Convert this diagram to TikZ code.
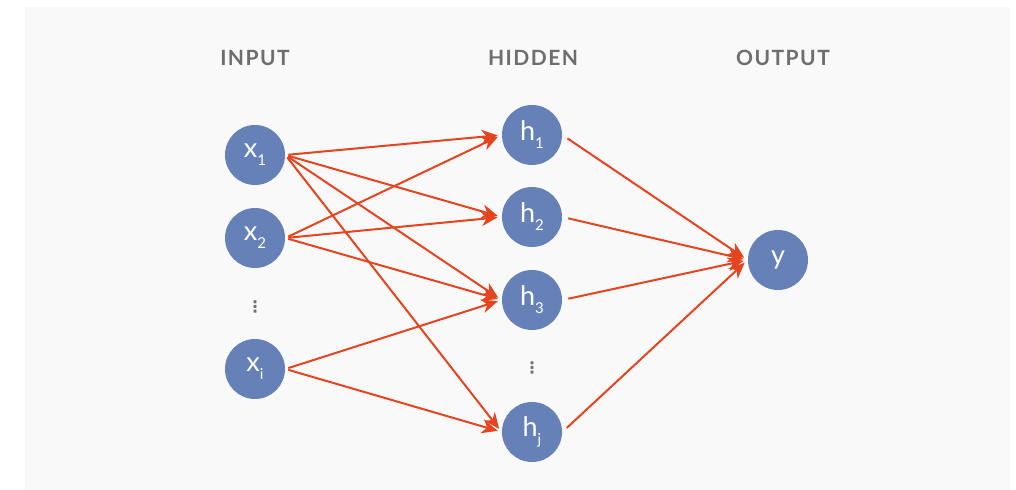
\documentclass[tikz,border=0pt]{standalone}
\usepackage{fontspec}
\setmainfont{Lato}
\newfontfamily\layerfont[LetterSpace=7]{Lato}
\newfontfamily\dotsfont{DejaVu Sans}
\usepackage{tikz}
\usetikzlibrary{arrows.meta}

\definecolor{bggray}{HTML}{F9F9F9}
\definecolor{neuronblue}{HTML}{6581B8}
\definecolor{linkred}{HTML}{E5441F}
\definecolor{labelgray}{HTML}{6E6E6E}

% 下标
\newcommand{\nsub}[1]{\raisebox{-4pt}{\fontsize{7.5}{7.5}\selectfont #1}}

\tikzset{
	neuron/.style={draw=none,circle,fill=neuronblue,minimum size=30pt,inner sep=0pt,text=white,font=\fontsize{13.5}{13.5}\selectfont},
	layer/.style={text=labelgray,font=\layerfont\bfseries\fontsize{10.5}{10.5}\selectfont},
	dotsnode/.style={text=labelgray,inner sep=0pt,font=\dotsfont\bfseries\fontsize{8}{8}\selectfont},
	link/.style={draw=linkred,line width=1pt,-{Stealth[length=8pt,width=7pt,inset=2.5pt]},shorten <=1.5pt,shorten >=2pt}
}

\begin{document}
\begin{tikzpicture}[x=0.5pt,y=-0.5pt]
			
			% 背景
			\useasboundingbox (0,0) rectangle (1016,490);
			\fill[bggray] (25,7) rectangle (1010,490);
			
			% 绘制层标题
			\node[layer] (inlabel) at (255,58) {INPUT};
			\node[layer] (hidlabel) at (533,58) {HIDDEN};
			\node[layer] (outlabel) at (783,58) {OUTPUT};
			
			% 绘制输入层节点
			\node[neuron] (x1) at (255,155) {x\nsub{1}};
			\node[neuron] (x2) at (255,238) {x\nsub{2}};
			\node[dotsnode] (xdots) at (255,307) {⋮};
			\node[neuron] (xi) at (255,369) {x\nsub{i}};
			
			% 绘制隐藏层节点
			\node[neuron] (h1) at (532,135) {h\nsub{1}};
			\node[neuron] (h2) at (532,217) {h\nsub{2}};
			\node[neuron] (h3) at (532,300) {h\nsub{3}};
			\node[dotsnode] (hdots) at (532,368) {⋮};
			\node[neuron] (hj) at (532,432) {h\nsub{j}};
			
			% 绘制输出节点
			\node[neuron] (y) at (778,260) {y};
			
			% 绘制连接线
			\draw[link] (x1.east) -- (h1.west);
			\draw[link] (x1.east) -- (h2.west);
			\draw[link] (x1.east) -- (h3.west);
			\draw[link] (x1.east) -- (hj.west);
			\draw[link] (x2.east) -- (h1.west);
			\draw[link] (x2.east) -- (h2.west);
			\draw[link] (x2.east) -- (h3.west);
			\draw[link] (xi.east) -- (h3.west);
			\draw[link] (xi.east) -- (hj.west);
			\draw[link,shorten <=3pt] (h1.east) -- (y.west);
			\draw[link,shorten <=3pt] (h2.east) -- (y.west);
			\draw[link,shorten <=3pt] (h3.east) -- (y.west);
			\draw[link,shorten <=3pt] (hj.east) -- (y.west);
			
		\end{tikzpicture}
\end{document}
